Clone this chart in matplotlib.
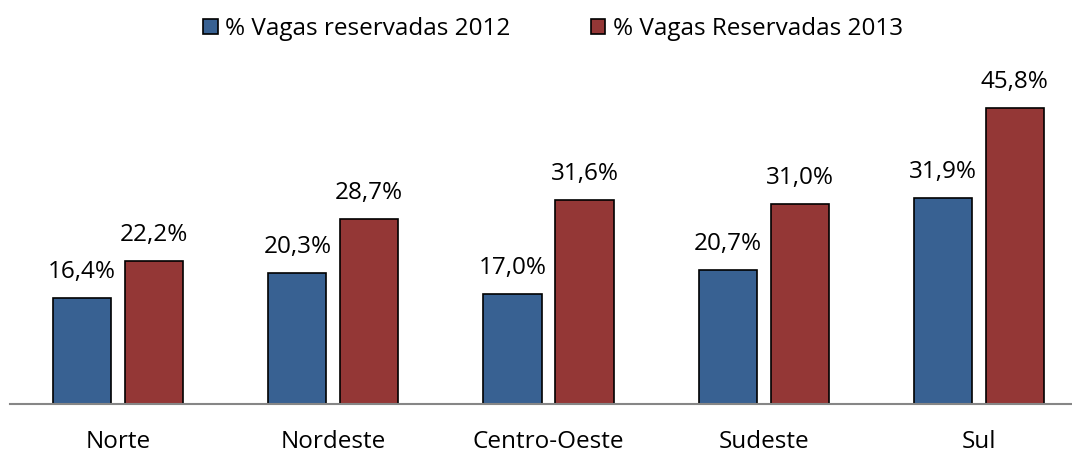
import numpy as np
import matplotlib.pyplot as plt

plt.rcParams['font.family'] = ['Open Sans', 'DejaVu Sans']

regioes = ['Norte', 'Nordeste', 'Centro-Oeste', 'Sudeste', 'Sul']
vagas_2012 = [16.4, 20.3, 17.0, 20.7, 31.9]
vagas_2013 = [22.2, 28.7, 31.6, 31.0, 45.8]
series = ['% Vagas reservadas 2012', '% Vagas Reservadas 2013']

cor_2012 = '#386192'
cor_2013 = '#943736'

fig = plt.figure(figsize=(10.72, 4.54), dpi=100)
ax = fig.add_axes([10.4 / 1072, 50 / 454, 1076.2 / 1072, 323 / 454])

x = np.arange(len(regioes))
w = 0.27
off = 0.167

b1 = ax.bar(x - off, vagas_2012, w, color=cor_2012, edgecolor='black', linewidth=1.2,
            label=series[0])
b2 = ax.bar(x + off, vagas_2013, w, color=cor_2013, edgecolor='black', linewidth=1.2,
            label=series[1])

for barras, vals in [(b1, vagas_2012), (b2, vagas_2013)]:
    for b, v in zip(barras, vals):
        ax.annotate(f'{v:.1f}%'.replace('.', ','),
                    (b.get_x() + b.get_width() / 2, b.get_height()),
                    xytext=(0, 10), textcoords='offset points',
                    ha='center', va='bottom', fontsize=17.5)

ax.set_xlim(-0.5, len(regioes) - 0.5)
ax.set_ylim(0, 50)
ax.set_xticks(x)
ax.set_xticklabels(regioes, fontsize=17.5)
ax.tick_params(axis='x', length=0, pad=19)
ax.set_yticks([])
for s in ['top', 'right', 'left']:
    ax.spines[s].set_visible(False)
ax.spines['bottom'].set_color('#868686')
ax.spines['bottom'].set_linewidth(1.5)

fig.legend(loc='upper center', bbox_to_anchor=(0.516, 0.995), ncol=2, frameon=False,
           fontsize=17.5, handlelength=0.6, handleheight=0.6, handletextpad=0.3,
           columnspacing=3.3, borderaxespad=0.2)

fig.savefig('out.png', dpi=100)
